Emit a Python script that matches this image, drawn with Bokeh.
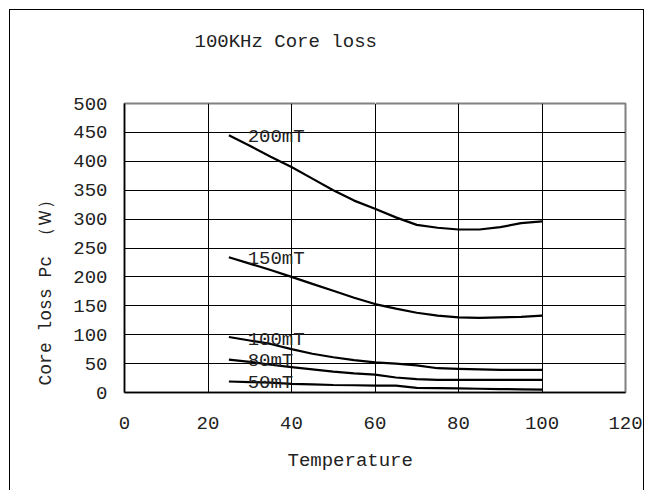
from bokeh.plotting import figure
from bokeh.models import Label, FixedTicker, Range1d, Title, LinearAxis
from bokeh.embed import file_html
from bokeh.resources import INLINE

# ---- data ----
temps = [25, 30, 35, 40, 45, 50, 55, 60, 65, 70, 75, 80, 85, 90, 95, 100]
loss_200mT = [445, 427, 408, 390, 370, 350, 332, 318, 303, 290, 285, 282, 282, 286, 293, 296]
loss_150mT = [234, 223, 212, 200, 188, 176, 164, 153, 145, 138, 133, 130, 129, 130, 131, 133]
loss_100mT = [96, 90, 84, 75, 67, 61, 56, 52, 50, 47, 42, 41, 40, 39, 39, 39]
loss_80mT = [57, 53, 48, 44, 40, 36, 33, 31, 26, 23, 22, 22, 22, 22, 22, 22]
loss_50mT = [19, 18, 17, 15, 14, 13, 12.5, 12, 12, 8, 7.5, 7, 6.5, 6, 5.5, 5]

series_names = ["200mT", "150mT", "100mT", "80mT", "50mT"]
label_x = [29.5, 29.5, 29.5, 29.5, 29.5]
label_y = [442, 231, 91, 54, 16]

x_ticks = [0, 20, 40, 60, 80, 100, 120]
y_ticks = [0, 50, 100, 150, 200, 250, 300, 350, 400, 450, 500]

title_text = "100KHz Core loss"
x_title = "Temperature"
y_title = "Core loss Pc \uff08\uff37\uff09"

FONT = "Liberation Mono"
TXT = "#222222"

p = figure(width=635, height=481, output_backend="svg", toolbar_location=None,
           x_range=Range1d(0, 120), y_range=Range1d(0, 500), title_location=None,
           min_border_left=114, min_border_right=20, min_border_top=93, min_border_bottom=99)
p.styles = {"margin-left": "9px", "margin-top": "9px",
            "border-left": "1px solid black", "border-top": "1px solid black",
            "border-right": "1px solid black"}
p.background_fill_color = "white"
p.border_fill_color = "white"
p.outline_line_color = "#808080"
p.outline_line_width = 2

for ax in (p.xaxis[0], p.yaxis[0]):
    ax.major_tick_out = 0
    ax.major_tick_in = 0
    ax.minor_tick_out = 0
    ax.minor_tick_in = 0
    ax.major_tick_line_color = None
    ax.minor_tick_line_color = None
    ax.axis_line_color = "black"
    ax.axis_line_width = 1.5
    ax.major_label_text_font = FONT
    ax.major_label_text_font_size = "19px"
    ax.major_label_text_color = TXT

p.xaxis.ticker = FixedTicker(ticks=x_ticks)
p.yaxis.ticker = FixedTicker(ticks=y_ticks)
p.xaxis.major_label_standoff = 24
p.yaxis.major_label_standoff = 17

p.xgrid.ticker = FixedTicker(ticks=x_ticks)
p.ygrid.ticker = FixedTicker(ticks=y_ticks)
p.grid.grid_line_color = "black"
p.grid.grid_line_width = 1
p.grid.grid_line_alpha = 1

for ys in [loss_200mT, loss_150mT, loss_100mT, loss_80mT, loss_50mT]:
    p.line(temps, ys, line_color="black", line_width=2.2)

for name, lx, ly in zip(series_names, label_x, label_y):
    p.add_layout(Label(x=lx, y=ly, text=name, text_font=FONT, text_font_size="19px",
                       text_baseline="middle", text_align="left", text_color=TXT))

# blank spacer band between the plot area and the title (white tick on white)
spacer = LinearAxis(ticker=FixedTicker(ticks=[60]), major_label_overrides={60: ""},
                    axis_line_color=None, major_tick_line_color="white",
                    minor_tick_line_color=None, major_label_standoff=0,
                    major_tick_out=40, major_tick_in=0, minor_tick_out=0, minor_tick_in=0)
p.add_layout(spacer, "above")

p.add_layout(Title(text=title_text, align="left", offset=70, standoff=22,
                   text_font=FONT, text_font_size="19px", text_font_style="normal",
                   text_color=TXT), "above")
p.add_layout(Title(text=x_title, align="left", offset=163, standoff=32,
                   text_font=FONT, text_font_size="19px", text_font_style="normal",
                   text_color=TXT), "below")
p.add_layout(Title(text=y_title, align="left", offset=7, standoff=30,
                   text_font=FONT, text_font_size="18px", text_font_style="normal",
                   text_color=TXT), "left")

open("out.html", "w").write(file_html(p, INLINE))
